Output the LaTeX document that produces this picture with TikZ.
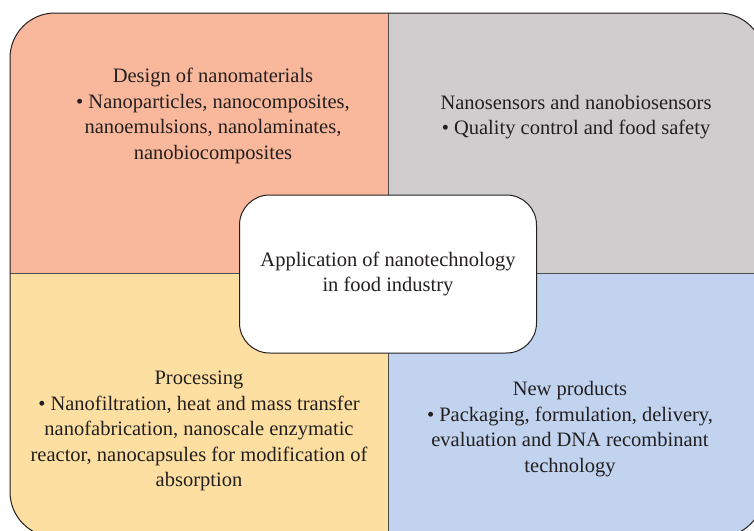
\documentclass[tikz,border=0pt]{standalone}
\usepackage{fontspec}
\setmainfont{Liberation Serif}
\usepackage{xcolor}
\usepackage{tikz}
\usetikzlibrary{positioning}
\definecolor{designcol}{HTML}{F9B89B}
\definecolor{sensorcol}{HTML}{D0CDCE}
\definecolor{processcol}{HTML}{FDDFA1}
\definecolor{productcol}{HTML}{C1D3EF}
\definecolor{linecol}{HTML}{231F20}
\tikzset{
  quadtext/.style={align=center, text=linecol, font=\fontsize{20.5}{25.6}\selectfont},
  hubbox/.style={draw=linecol, line width=1pt, fill=white, rounded corners=30pt,
    minimum width=297pt, minimum height=158pt, align=center, text=linecol,
    font=\fontsize{20.5}{25.6}\selectfont}
}

\begin{document}
\begin{tikzpicture}[x=1pt,y=-1pt]
    \useasboundingbox (0,0) rectangle (754,530);
    \begin{scope}
        \clip (0,0) rectangle (754,530);
        \begin{scope}
            \clip[rounded corners=45pt] (10,13) rectangle (764,537);
            \fill[designcol] (0,0) rectangle (388,273);
            \fill[sensorcol] (388,0) rectangle (770,273);
            \fill[processcol] (0,273) rectangle (388,540);
            \fill[productcol] (388,273) rectangle (770,540);
            \draw[linecol!80, line width=0.6pt] (388,0) -- (388,540);
            \draw[linecol!80, line width=0.6pt] (0,273) -- (770,273);
        \end{scope}
        \draw[linecol, line width=1pt, rounded corners=45pt] (10,13) rectangle (764,537);
    \end{scope}

    \node[hubbox] (hub) at (388,274) {Application of nanotechnology\\in food industry};

    \node[quadtext] (design) at (213,116) {Design of nanomaterials\\
        \textbullet\ Nanoparticles, nanocomposites,\\
        nanoemulsions, nanolaminates,\\
        nanobiocomposites};
    \node[quadtext] (sensor) at (576,117) {Nanosensors and nanobiosensors\\
        \textbullet\ Quality control and food safety};
    \node[quadtext] (process) at (199,431) {Processing\\
        \textbullet\ Nanofiltration, heat and mass transfer\\
        nanofabrication, nanoscale enzymatic\\
        reactor, nanocapsules for modification of\\
        absorption};
    \node[quadtext] (product) at (570,429) {New products\\
        \textbullet\ Packaging, formulation, delivery,\\
        evaluation and DNA recombinant\\
        technology};
\end{tikzpicture}
\end{document}
